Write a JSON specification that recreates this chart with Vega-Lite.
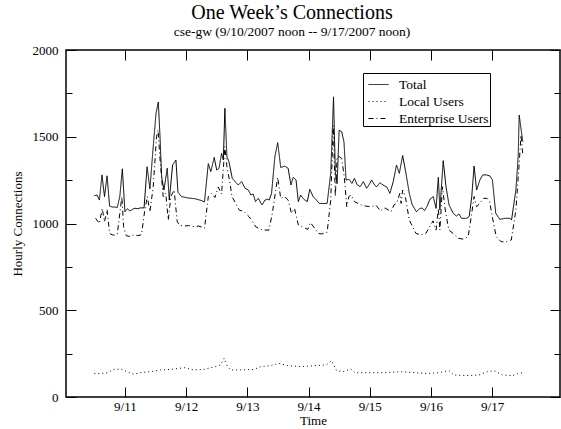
{
  "$schema": "https://vega.github.io/schema/vega-lite/v6.json",
  "width": 494,
  "height": 347,
  "autosize": {"type": "none"},
  "padding": {"left": 66, "top": 50, "right": 1, "bottom": 32},
  "background": "white",
  "config": {
    "font": "Liberation Serif",
    "view": {"stroke": "black", "strokeWidth": 1.5},
    "axis": {"domain": false, "grid": false, "labelFont": "Liberation Serif", "titleFont": "Liberation Serif", "labelFontSize": 13, "titleFontSize": 13, "titleFontWeight": "normal", "labelColor": "black", "tickColor": "black", "titleColor": "black", "labelFlush": false, "labelOverlap": false, "tickWidth": 1, "format": "d"}
  },
  "title": {"text": "One Week’s Connections", "subtitle": "cse-gw (9/10/2007 noon -- 9/17/2007 noon)", "fontSize": 20, "subtitleFontSize": 13.5, "font": "Liberation Serif", "subtitleFont": "Liberation Serif", "fontWeight": "normal", "anchor": "middle", "frame": "group", "dx": -21, "offset": 6, "subtitlePadding": 2, "color": "black", "subtitleColor": "black"},
  "data": {"values": [
    {"s":"Total","h":0,"v":1160},{"s":"Total","h":1.1,"v":1164},{"s":"Total","h":2,"v":1135},{"s":"Total","h":3,"v":1280},{"s":"Total","h":4,"v":1155},{"s":"Total","h":5,"v":1275},{"s":"Total","h":6,"v":1100},{"s":"Total","h":7,"v":1095},{"s":"Total","h":8,"v":1095},{"s":"Total","h":9,"v":1092},{"s":"Total","h":10,"v":1155},{"s":"Total","h":11,"v":1315},{"s":"Total","h":12,"v":1068},{"s":"Total","h":13,"v":1085},{"s":"Total","h":14,"v":1072},{"s":"Total","h":15,"v":1082},{"s":"Total","h":16,"v":1088},{"s":"Total","h":17,"v":1085},{"s":"Total","h":18,"v":1090},{"s":"Total","h":19.5,"v":1090},{"s":"Total","h":20.7,"v":1327},{"s":"Total","h":21.8,"v":1200},{"s":"Total","h":23.1,"v":1443},{"s":"Total","h":24.2,"v":1635},{"s":"Total","h":25.1,"v":1700},{"s":"Total","h":25.7,"v":1520},{"s":"Total","h":26.4,"v":1270},{"s":"Total","h":27.3,"v":1193},{"s":"Total","h":28.6,"v":1318},{"s":"Total","h":29.4,"v":1135},{"s":"Total","h":30.7,"v":1337},{"s":"Total","h":32,"v":1366},{"s":"Total","h":32.5,"v":1250},{"s":"Total","h":32.8,"v":1180},{"s":"Total","h":34.2,"v":1155},{"s":"Total","h":36.8,"v":1147},{"s":"Total","h":39.4,"v":1143},{"s":"Total","h":42.1,"v":1132},{"s":"Total","h":43.2,"v":1124},{"s":"Total","h":44.7,"v":1345},{"s":"Total","h":45.7,"v":1299},{"s":"Total","h":47,"v":1381},{"s":"Total","h":48,"v":1308},{"s":"Total","h":48.9,"v":1318},{"s":"Total","h":49.9,"v":1404},{"s":"Total","h":50.6,"v":1366},{"s":"Total","h":51.2,"v":1664},{"s":"Total","h":52,"v":1385},{"s":"Total","h":52.8,"v":1356},{"s":"Total","h":54.1,"v":1260},{"s":"Total","h":55.3,"v":1240},{"s":"Total","h":56.4,"v":1222},{"s":"Total","h":57.8,"v":1241},{"s":"Total","h":59.1,"v":1203},{"s":"Total","h":60.4,"v":1193},{"s":"Total","h":61.4,"v":1164},{"s":"Total","h":62.3,"v":1170},{"s":"Total","h":63.2,"v":1126},{"s":"Total","h":64.3,"v":1145},{"s":"Total","h":65.8,"v":1107},{"s":"Total","h":66.9,"v":1135},{"s":"Total","h":68,"v":1140},{"s":"Total","h":68.6,"v":1135},{"s":"Total","h":69.5,"v":1174},{"s":"Total","h":70.8,"v":1385},{"s":"Total","h":71.9,"v":1466},{"s":"Total","h":73.1,"v":1323},{"s":"Total","h":74.7,"v":1331},{"s":"Total","h":76,"v":1318},{"s":"Total","h":77.1,"v":1222},{"s":"Total","h":78,"v":1266},{"s":"Total","h":79.1,"v":1251},{"s":"Total","h":80,"v":1126},{"s":"Total","h":80.9,"v":1164},{"s":"Total","h":82.2,"v":1139},{"s":"Total","h":83.5,"v":1126},{"s":"Total","h":84.5,"v":1197},{"s":"Total","h":85.8,"v":1155},{"s":"Total","h":87.1,"v":1135},{"s":"Total","h":88.2,"v":1116},{"s":"Total","h":90,"v":1115},{"s":"Total","h":91.3,"v":1116},{"s":"Total","h":92.7,"v":1289},{"s":"Total","h":93.8,"v":1730},{"s":"Total","h":94.5,"v":1300},{"s":"Total","h":95.2,"v":1230},{"s":"Total","h":96,"v":1537},{"s":"Total","h":97,"v":1529},{"s":"Total","h":97.9,"v":1470},{"s":"Total","h":98.7,"v":1251},{"s":"Total","h":99.9,"v":1254},{"s":"Total","h":101,"v":1231},{"s":"Total","h":102,"v":1260},{"s":"Total","h":103,"v":1225},{"s":"Total","h":104.2,"v":1212},{"s":"Total","h":105.5,"v":1241},{"s":"Total","h":106.8,"v":1203},{"s":"Total","h":108,"v":1230},{"s":"Total","h":108.7,"v":1251},{"s":"Total","h":110,"v":1220},{"s":"Total","h":110.7,"v":1212},{"s":"Total","h":112,"v":1235},{"s":"Total","h":112.7,"v":1227},{"s":"Total","h":114,"v":1215},{"s":"Total","h":114.6,"v":1212},{"s":"Total","h":115.9,"v":1174},{"s":"Total","h":117.2,"v":1241},{"s":"Total","h":118.5,"v":1337},{"s":"Total","h":119.6,"v":1289},{"s":"Total","h":120.9,"v":1392},{"s":"Total","h":122.2,"v":1289},{"s":"Total","h":123.5,"v":1174},{"s":"Total","h":124.6,"v":1110},{"s":"Total","h":126.3,"v":1068},{"s":"Total","h":127.5,"v":1085},{"s":"Total","h":128.5,"v":1090},{"s":"Total","h":129.5,"v":1074},{"s":"Total","h":130.5,"v":1100},{"s":"Total","h":131.6,"v":1140},{"s":"Total","h":132.9,"v":1155},{"s":"Total","h":134,"v":1087},{"s":"Total","h":134.9,"v":1266},{"s":"Total","h":135.5,"v":1078},{"s":"Total","h":136.8,"v":1362},{"s":"Total","h":137.9,"v":1212},{"s":"Total","h":139.1,"v":1107},{"s":"Total","h":140.7,"v":1059},{"s":"Total","h":142,"v":1043},{"s":"Total","h":143,"v":1055},{"s":"Total","h":144,"v":1030},{"s":"Total","h":146,"v":1030},{"s":"Total","h":147,"v":1040},{"s":"Total","h":148,"v":1155},{"s":"Total","h":148.9,"v":1331},{"s":"Total","h":149.9,"v":1193},{"s":"Total","h":151.2,"v":1251},{"s":"Total","h":152.3,"v":1280},{"s":"Total","h":153.8,"v":1280},{"s":"Total","h":155.1,"v":1274},{"s":"Total","h":156.1,"v":1251},{"s":"Total","h":157.4,"v":1059},{"s":"Total","h":159,"v":1024},{"s":"Total","h":161,"v":1030},{"s":"Total","h":163,"v":1030},{"s":"Total","h":163.6,"v":1020},{"s":"Total","h":165.3,"v":1193},{"s":"Total","h":166.2,"v":1385},{"s":"Total","h":166.6,"v":1625},{"s":"Total","h":168,"v":1471},

    {"s":"Local Users","h":0,"v":136},{"s":"Local Users","h":2,"v":135},{"s":"Local Users","h":5,"v":140},{"s":"Local Users","h":8,"v":161},{"s":"Local Users","h":10.8,"v":159},{"s":"Local Users","h":12.8,"v":146},{"s":"Local Users","h":15.5,"v":131},{"s":"Local Users","h":18.1,"v":140},{"s":"Local Users","h":22,"v":146},{"s":"Local Users","h":26,"v":156},{"s":"Local Users","h":30,"v":159},{"s":"Local Users","h":35.2,"v":169},{"s":"Local Users","h":39.1,"v":156},{"s":"Local Users","h":43,"v":159},{"s":"Local Users","h":48.3,"v":179},{"s":"Local Users","h":49.5,"v":185},{"s":"Local Users","h":50.9,"v":223},{"s":"Local Users","h":52.2,"v":175},{"s":"Local Users","h":53.5,"v":156},{"s":"Local Users","h":57.4,"v":156},{"s":"Local Users","h":62.6,"v":159},{"s":"Local Users","h":65.2,"v":175},{"s":"Local Users","h":69.1,"v":181},{"s":"Local Users","h":72.3,"v":194},{"s":"Local Users","h":75.6,"v":181},{"s":"Local Users","h":80.8,"v":175},{"s":"Local Users","h":84.5,"v":179},{"s":"Local Users","h":91,"v":185},{"s":"Local Users","h":93,"v":209},{"s":"Local Users","h":95,"v":152},{"s":"Local Users","h":97.6,"v":146},{"s":"Local Users","h":100.6,"v":162},{"s":"Local Users","h":102.2,"v":140},{"s":"Local Users","h":107.5,"v":140},{"s":"Local Users","h":114,"v":140},{"s":"Local Users","h":120.5,"v":146},{"s":"Local Users","h":125.7,"v":140},{"s":"Local Users","h":129.6,"v":136},{"s":"Local Users","h":134,"v":138},{"s":"Local Users","h":139.1,"v":152},{"s":"Local Users","h":141,"v":127},{"s":"Local Users","h":145.6,"v":123},{"s":"Local Users","h":150.8,"v":127},{"s":"Local Users","h":154.1,"v":146},{"s":"Local Users","h":156.7,"v":152},{"s":"Local Users","h":160,"v":127},{"s":"Local Users","h":164,"v":123},{"s":"Local Users","h":166,"v":135},{"s":"Local Users","h":168,"v":140},

    {"s":"Enterprise Users","h":0.5,"v":1030},{"s":"Enterprise Users","h":2,"v":1000},{"s":"Enterprise Users","h":3.1,"v":1087},{"s":"Enterprise Users","h":4,"v":1010},{"s":"Enterprise Users","h":5,"v":1080},{"s":"Enterprise Users","h":6,"v":943},{"s":"Enterprise Users","h":7,"v":935},{"s":"Enterprise Users","h":8,"v":932},{"s":"Enterprise Users","h":9,"v":938},{"s":"Enterprise Users","h":10.8,"v":1155},{"s":"Enterprise Users","h":11.5,"v":981},{"s":"Enterprise Users","h":12.5,"v":930},{"s":"Enterprise Users","h":14,"v":925},{"s":"Enterprise Users","h":15.5,"v":935},{"s":"Enterprise Users","h":17,"v":930},{"s":"Enterprise Users","h":18.5,"v":935},{"s":"Enterprise Users","h":19.8,"v":1078},{"s":"Enterprise Users","h":20.8,"v":1155},{"s":"Enterprise Users","h":21.8,"v":1068},{"s":"Enterprise Users","h":23.1,"v":1212},{"s":"Enterprise Users","h":24.4,"v":1500},{"s":"Enterprise Users","h":25,"v":1539},{"s":"Enterprise Users","h":25.7,"v":1385},{"s":"Enterprise Users","h":27,"v":1155},{"s":"Enterprise Users","h":28,"v":1175},{"s":"Enterprise Users","h":29,"v":1020},{"s":"Enterprise Users","h":30,"v":1155},{"s":"Enterprise Users","h":31.3,"v":1193},{"s":"Enterprise Users","h":32.5,"v":1010},{"s":"Enterprise Users","h":33.5,"v":990},{"s":"Enterprise Users","h":35,"v":985},{"s":"Enterprise Users","h":37,"v":988},{"s":"Enterprise Users","h":39,"v":982},{"s":"Enterprise Users","h":41,"v":985},{"s":"Enterprise Users","h":42,"v":980},{"s":"Enterprise Users","h":43.2,"v":972},{"s":"Enterprise Users","h":44.7,"v":1155},{"s":"Enterprise Users","h":46,"v":1174},{"s":"Enterprise Users","h":47.3,"v":1150},{"s":"Enterprise Users","h":48.6,"v":1210},{"s":"Enterprise Users","h":49.9,"v":1170},{"s":"Enterprise Users","h":51.2,"v":1443},{"s":"Enterprise Users","h":52,"v":1327},{"s":"Enterprise Users","h":53,"v":1250},{"s":"Enterprise Users","h":54,"v":1155},{"s":"Enterprise Users","h":56.8,"v":1078},{"s":"Enterprise Users","h":58.7,"v":1068},{"s":"Enterprise Users","h":60.7,"v":1039},{"s":"Enterprise Users","h":63.3,"v":981},{"s":"Enterprise Users","h":65.9,"v":962},{"s":"Enterprise Users","h":68.5,"v":962},{"s":"Enterprise Users","h":69.8,"v":1059},{"s":"Enterprise Users","h":71.9,"v":1266},{"s":"Enterprise Users","h":73.1,"v":1145},{"s":"Enterprise Users","h":74.7,"v":1155},{"s":"Enterprise Users","h":76,"v":1135},{"s":"Enterprise Users","h":77.3,"v":1059},{"s":"Enterprise Users","h":78.5,"v":1087},{"s":"Enterprise Users","h":80,"v":991},{"s":"Enterprise Users","h":82,"v":978},{"s":"Enterprise Users","h":83.7,"v":966},{"s":"Enterprise Users","h":84.7,"v":1005},{"s":"Enterprise Users","h":85.8,"v":985},{"s":"Enterprise Users","h":87.8,"v":943},{"s":"Enterprise Users","h":89,"v":940},{"s":"Enterprise Users","h":90.5,"v":945},{"s":"Enterprise Users","h":91.3,"v":950},{"s":"Enterprise Users","h":92.7,"v":1135},{"s":"Enterprise Users","h":93.7,"v":1565},{"s":"Enterprise Users","h":94.5,"v":1155},{"s":"Enterprise Users","h":95.2,"v":1385},{"s":"Enterprise Users","h":96,"v":1385},{"s":"Enterprise Users","h":97,"v":1375},{"s":"Enterprise Users","h":98,"v":1270},{"s":"Enterprise Users","h":99,"v":1097},{"s":"Enterprise Users","h":99.8,"v":1155},{"s":"Enterprise Users","h":100.7,"v":1164},{"s":"Enterprise Users","h":102,"v":1126},{"s":"Enterprise Users","h":104.6,"v":1107},{"s":"Enterprise Users","h":106.5,"v":1100},{"s":"Enterprise Users","h":108.5,"v":1097},{"s":"Enterprise Users","h":110.5,"v":1105},{"s":"Enterprise Users","h":112.2,"v":1072},{"s":"Enterprise Users","h":114,"v":1090},{"s":"Enterprise Users","h":116.4,"v":1068},{"s":"Enterprise Users","h":117.5,"v":1107},{"s":"Enterprise Users","h":118.5,"v":1116},{"s":"Enterprise Users","h":119.8,"v":1174},{"s":"Enterprise Users","h":120.3,"v":1116},{"s":"Enterprise Users","h":120.9,"v":1193},{"s":"Enterprise Users","h":122,"v":1150},{"s":"Enterprise Users","h":123.5,"v":1020},{"s":"Enterprise Users","h":124.8,"v":981},{"s":"Enterprise Users","h":126.1,"v":943},{"s":"Enterprise Users","h":128,"v":934},{"s":"Enterprise Users","h":130,"v":943},{"s":"Enterprise Users","h":131.5,"v":981},{"s":"Enterprise Users","h":132.8,"v":1015},{"s":"Enterprise Users","h":134,"v":962},{"s":"Enterprise Users","h":134.9,"v":1087},{"s":"Enterprise Users","h":135.5,"v":962},{"s":"Enterprise Users","h":136.5,"v":1212},{"s":"Enterprise Users","h":137.6,"v":1078},{"s":"Enterprise Users","h":139,"v":962},{"s":"Enterprise Users","h":140.7,"v":943},{"s":"Enterprise Users","h":142.6,"v":915},{"s":"Enterprise Users","h":144.6,"v":910},{"s":"Enterprise Users","h":146.6,"v":924},{"s":"Enterprise Users","h":148,"v":1059},{"s":"Enterprise Users","h":148.9,"v":1155},{"s":"Enterprise Users","h":149.9,"v":1097},{"s":"Enterprise Users","h":151.2,"v":1116},{"s":"Enterprise Users","h":152.5,"v":1145},{"s":"Enterprise Users","h":154,"v":1145},{"s":"Enterprise Users","h":155,"v":1126},{"s":"Enterprise Users","h":156.3,"v":1020},{"s":"Enterprise Users","h":157.6,"v":924},{"s":"Enterprise Users","h":159.5,"v":895},{"s":"Enterprise Users","h":161.5,"v":895},{"s":"Enterprise Users","h":163.5,"v":905},{"s":"Enterprise Users","h":165.3,"v":1078},{"s":"Enterprise Users","h":166.6,"v":1345},{"s":"Enterprise Users","h":167.3,"v":1510},{"s":"Enterprise Users","h":168,"v":1400}
  ]},
  "layer": [
    {
      "mark": {"type": "line", "color": "black", "strokeWidth": 1},
      "encoding": {
        "x": {"field": "h", "type": "quantitative", "scale": {"domain": [-11.1, 182.6], "nice": false, "zero": false},
              "axis": {"orient": "bottom", "values": [12, 36, 60, 84, 108, 132, 156], "labelExpr": "'9/' + (11 + (datum.value - 12) / 24)", "tickSize": -10, "labelPadding": 13, "title": "Time", "titlePadding": 1}},
        "y": {"field": "v", "type": "quantitative", "scale": {"domain": [0, 2000], "nice": false, "zero": false},
              "axis": {"orient": "left", "values": [0, 500, 1000, 1500, 2000], "tickSize": -10, "labelPadding": 18, "title": "Hourly Connections", "titlePadding": 8}},
        "strokeDash": {"field": "s", "type": "nominal",
          "scale": {"domain": ["Total", "Local Users", "Enterprise Users"], "range": [[1, 0], [1, 3], [5, 3, 1, 3]]},
          "legend": {"orient": "none", "legendX": 297, "legendY": 23, "title": null, "strokeColor": "black", "fillColor": "white", "padding": 1, "symbolOffset": 4, "symbolType": "stroke", "symbolSize": 400, "symbolStrokeWidth": 1, "symbolStrokeColor": "black", "labelFontSize": 13.5, "labelOffset": 10, "rowPadding": -4, "labelFont": "Liberation Serif", "labelColor": "black", "cornerRadius": 0}}
      }
    },
    {
      "mark": {"type": "point", "opacity": 0},
      "encoding": {
        "x": {"field": "h", "type": "quantitative", "scale": {"domain": [-11.1, 182.6], "nice": false, "zero": false},
              "axis": {"orient": "top", "values": [12, 36, 60, 84, 108, 132, 156], "labels": false, "tickSize": -10, "title": null}},
        "y": {"field": "v", "type": "quantitative", "scale": {"domain": [0, 2000], "nice": false, "zero": false},
              "axis": {"orient": "right", "values": [0, 500, 1000, 1500, 2000], "labels": false, "tickSize": -10, "title": null}}
      }
    },
    {
      "mark": {"type": "point", "opacity": 0},
      "encoding": {
        "x": {"field": "h", "type": "quantitative", "scale": {"domain": [-11.1, 182.6], "nice": false, "zero": false}, "axis": null},
        "y": {"field": "v", "type": "quantitative", "scale": {"domain": [0, 2000], "nice": false, "zero": false},
              "axis": {"orient": "left", "values": [250, 750, 1250, 1750], "labels": false, "tickSize": -6, "title": null}}
      }
    },
    {
      "mark": {"type": "point", "opacity": 0},
      "encoding": {
        "x": {"field": "h", "type": "quantitative", "scale": {"domain": [-11.1, 182.6], "nice": false, "zero": false}, "axis": null},
        "y": {"field": "v", "type": "quantitative", "scale": {"domain": [0, 2000], "nice": false, "zero": false},
              "axis": {"orient": "right", "values": [250, 750, 1250, 1750], "labels": false, "tickSize": -6, "title": null}}
      }
    }
  ],
  "resolve": {"axis": {"x": "independent", "y": "independent"}}
}
